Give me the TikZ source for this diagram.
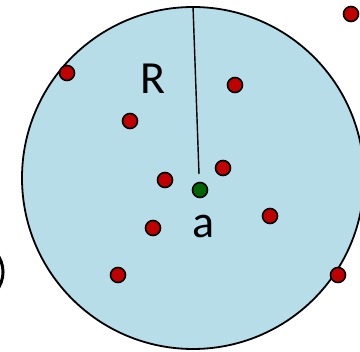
\documentclass[tikz,border=0pt]{standalone}
\usepackage{fontspec}
\setmainfont{Carlito}
\usepackage{tikz}
\definecolor{diskblue}{RGB}{183,222,232}
\definecolor{dotred}{RGB}{192,0,0}
\definecolor{dotgreen}{RGB}{0,100,0}
\tikzset{
    reddot/.style={circle,draw=black,line width=1.6pt,fill=dotred,inner sep=0pt,minimum size=15pt},
    greendot/.style={circle,draw=black,line width=1.6pt,fill=dotgreen,inner sep=0pt,minimum size=15pt},
    bigletter/.style={inner sep=0pt,font=\fontsize{46}{50}\selectfont}
}
\begin{document}
\begin{tikzpicture}[x=1pt,y=-1pt]
        \useasboundingbox (0,0) rectangle (360,352);
        % the disk of radius R
        \node[circle,draw=black,line width=1.8pt,fill=diskblue,inner sep=0pt,minimum size=342pt] (disk) at (193,178) {};
        % piece of the next shape, cut by the left edge
        \draw[line width=3pt] (-4,252.7) arc[start angle=-40,end angle=40,radius=30];
        \coordinate (tip) at (199,174);
        \draw[line width=1.4pt] (disk.north) -- (tip);
        \node[bigletter] (rlabel) at (153,79) {R};
        \node[greendot] (a) at (200,190) {};
        \node[bigletter] (alabel) at (204,226) {a};
        % red points
        \node[reddot] (p1) at (67,73) {};
        \node[reddot] (p2) at (130,121) {};
        \node[reddot] (p3) at (235,85) {};
        \node[reddot] (p4) at (351,14) {};
        \node[reddot] (p5) at (165,180) {};
        \node[reddot] (p6) at (223,168) {};
        \node[reddot] (p7) at (270,216) {};
        \node[reddot] (p8) at (153,228) {};
        \node[reddot] (p9) at (118,275) {};
        \node[reddot] (p10) at (338,275) {};
\end{tikzpicture}
\end{document}
